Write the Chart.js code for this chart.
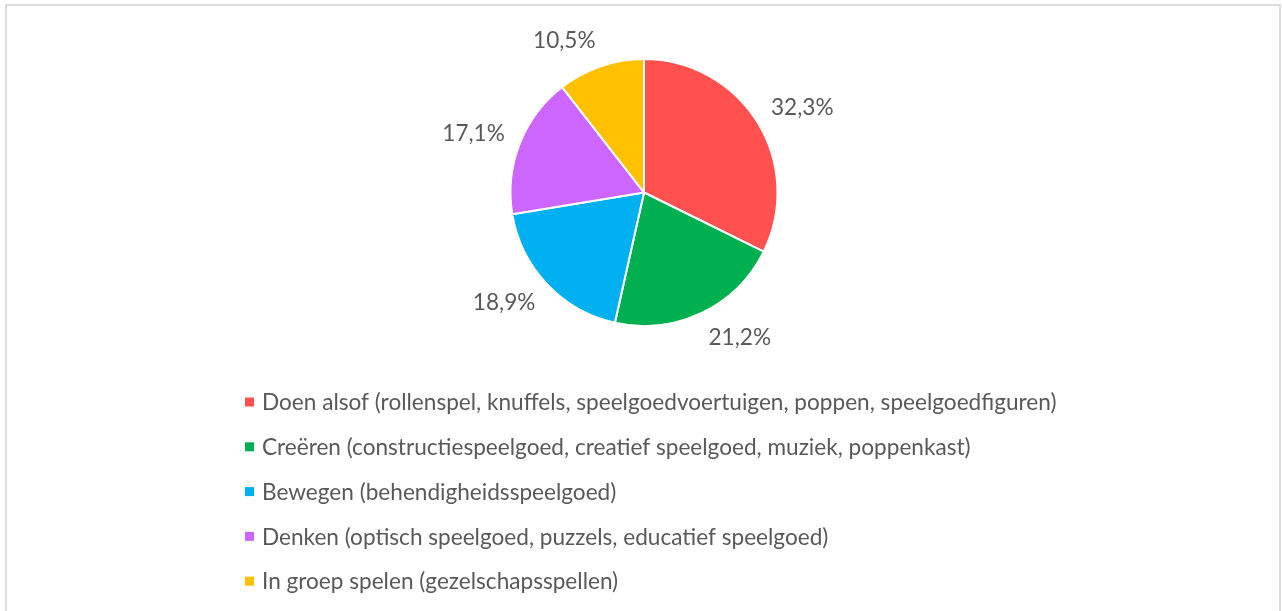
<!DOCTYPE html>
<html>
<head>
<meta charset="utf-8">
<script src="https://cdn.jsdelivr.net/npm/chart.js@4.4.0/dist/chart.umd.min.js"></script>
<style>
  html, body { margin: 0; padding: 0; background: #fff; }
  #wrap { position: relative; width: 1282px; height: 611px; overflow: hidden; }
  #frame { position: absolute; left: 5px; top: 4px; width: 1272px; height: 700px; border: 2px solid #dcdcdc; }
  #myPie { position: absolute; left: 0; top: 0; }
</style>
</head>
<body>
<div id="wrap">
  <div id="frame"></div>
  <canvas id="myPie" width="1282" height="611"></canvas>
</div>
<script>
var categorieen = [
  'Doen alsof (rollenspel, knuffels, speelgoedvoertuigen, poppen, speelgoedfiguren)',
  'Creëren (constructiespeelgoed, creatief speelgoed, muziek, poppenkast)',
  'Bewegen (behendigheidsspeelgoed)',
  'Denken (optisch speelgoed, puzzels, educatief speelgoed)',
  'In groep spelen (gezelschapsspellen)'
];
var percentages = [32.3, 21.2, 18.9, 17.1, 10.5];
var kleuren = ['#FF5050', '#00B050', '#00B0F0', '#CC66FF', '#FFC000'];

var tekstKleur = '#595959';
var lettertype = '22.6px Lato, "Open Sans", sans-serif';

function fmt(v) {
  return v.toFixed(1).replace('.', ',') + '%';
}

// percentages buiten de taartpunten
var labelPlugin = {
  id: 'buitenLabels',
  afterDatasetsDraw: function(chart) {
    var ctx = chart.ctx;
    var meta = chart.getDatasetMeta(0);
    ctx.save();
    ctx.font = lettertype;
    ctx.fillStyle = tekstKleur;
    ctx.textAlign = 'center';
    ctx.textBaseline = 'middle';
    meta.data.forEach(function(arc, i) {
      var mid = (arc.startAngle + arc.endAngle) / 2;
      var dx = Math.cos(mid), dy = Math.sin(mid);
      var r = arc.outerRadius + 16;
      var txt = fmt(chart.data.datasets[0].data[i]);
      var w = ctx.measureText(txt).width;
      var px = arc.x + dx * r, py = arc.y + dy * r;
      var cx = px + (dx >= 0 ? 1 : -1) * w / 2;
      var cy = py + dy * 11;
      ctx.fillText(txt, cx, cy);
    });
    ctx.restore();
  }
};

// legenda als verticale lijst onder de taart
var legendaPlugin = {
  id: 'legendaLijst',
  afterDraw: function(chart) {
    var ctx = chart.ctx;
    var ds = chart.data.datasets[0];
    ctx.save();
    ctx.font = lettertype;
    ctx.textBaseline = 'middle';
    ctx.textAlign = 'left';
    chart.data.labels.forEach(function(lab, i) {
      var y = 402 + i * 44.8;
      ctx.fillStyle = ds.backgroundColor[i];
      ctx.fillRect(245, y - 4.5, 9, 9);
      ctx.fillStyle = tekstKleur;
      ctx.fillText(lab, 262, y + 1);
    });
    ctx.restore();
  }
};

var ctx = document.getElementById('myPie').getContext('2d');
var myPie = new Chart(ctx, {
  type: 'pie',
  data: {
    labels: categorieen,
    datasets: [{
      data: percentages,
      backgroundColor: kleuren,
      borderColor: '#ffffff',
      borderWidth: 2
    }]
  },
  options: {
    responsive: false,
    animation: false,
    layout: { padding: { top: 58, bottom: 284, left: 6, right: 0 } },
    plugins: {
      legend: { display: false },
      tooltip: { enabled: false }
    }
  },
  plugins: [labelPlugin, legendaPlugin]
});
</script>
</body>
</html>
